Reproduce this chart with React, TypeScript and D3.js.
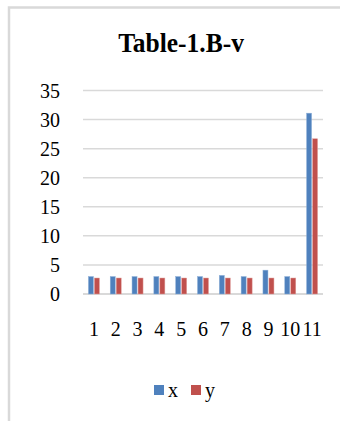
import React from "react";
import * as d3 from "d3";

const categories = ["1", "2", "3", "4", "5", "6", "7", "8", "9", "10", "11"];
const seriesX = [3.0, 3.0, 3.0, 3.0, 3.0, 3.0, 3.2, 3.0, 4.1, 3.0, 31.1];
const seriesY = [2.75, 2.75, 2.75, 2.75, 2.75, 2.75, 2.75, 2.75, 2.75, 2.75, 26.7];
const yTicks = [0, 5, 10, 15, 20, 25, 30, 35];
const seriesNames = ["x", "y"];
const colors = ["#4f81bd", "#c0504d"];

const W = 340;
const H = 421;
const font = "'Liberation Serif', 'Times New Roman', serif";

export default function App() {
  const x = d3.scaleBand<string>().domain(categories).range([83, 323]).padding(0);
  const y = d3.scaleLinear().domain([0, 35]).range([294, 90.5]);
  const bw = 5;
  const sy = 1.08;

  return (
    <svg width={W} height={H} style={{ position: "absolute", left: 0, top: 0, background: "#fff" }}>
      <rect x={9} y={7.5} width={W + 20} height={H + 20} fill="#fff" stroke="#d9d9d9" strokeWidth={2.5} />
      <text
        transform={`translate(181,52) scale(1,${sy})`}
        textAnchor="middle"
        fontFamily={font}
        fontWeight="bold"
        fontSize={25.5}
        fill="#000"
      >
        Table-1.B-v
      </text>
      {yTicks.map((t) => (
        <g key={t}>
          <line x1={83} x2={323} y1={y(t)} y2={y(t)} stroke="#d9d9d9" strokeWidth={t === 0 ? 2 : 1.5} />
          <text
            transform={`translate(60,${y(t) + 7}) scale(1,${sy})`}
            textAnchor="end"
            fontFamily={font}
            fontSize={20}
            fill="#000"
          >
            {t}
          </text>
        </g>
      ))}
      {categories.map((c, i) => {
        const cx = (x(c) as number) + x.bandwidth() / 2;
        return (
          <g key={c}>
            <rect
              x={cx - bw - 0.5}
              y={y(seriesX[i])}
              width={bw}
              height={y(0) - y(seriesX[i])}
              fill={colors[0]}
              stroke="#8eb0d8"
              strokeWidth={0.5}
            />
            <rect
              x={cx + 0.5}
              y={y(seriesY[i])}
              width={bw}
              height={y(0) - y(seriesY[i])}
              fill={colors[1]}
              stroke="#e0a09e"
              strokeWidth={0.5}
            />
            <text
              transform={`translate(${cx},336) scale(1,${sy})`}
              textAnchor="middle"
              fontFamily={font}
              fontSize={20}
              fill="#000"
            >
              {c}
            </text>
          </g>
        );
      })}
      {seriesNames.map((n, i) => (
        <g key={n} transform={`translate(${154 + i * 37},385)`}>
          <rect x={0} y={0} width={10} height={10} fill={colors[i]} />
          <text transform={`translate(14,12) scale(1,${sy})`} fontFamily={font} fontSize={20} fill="#000">
            {n}
          </text>
        </g>
      ))}
    </svg>
  );
}
